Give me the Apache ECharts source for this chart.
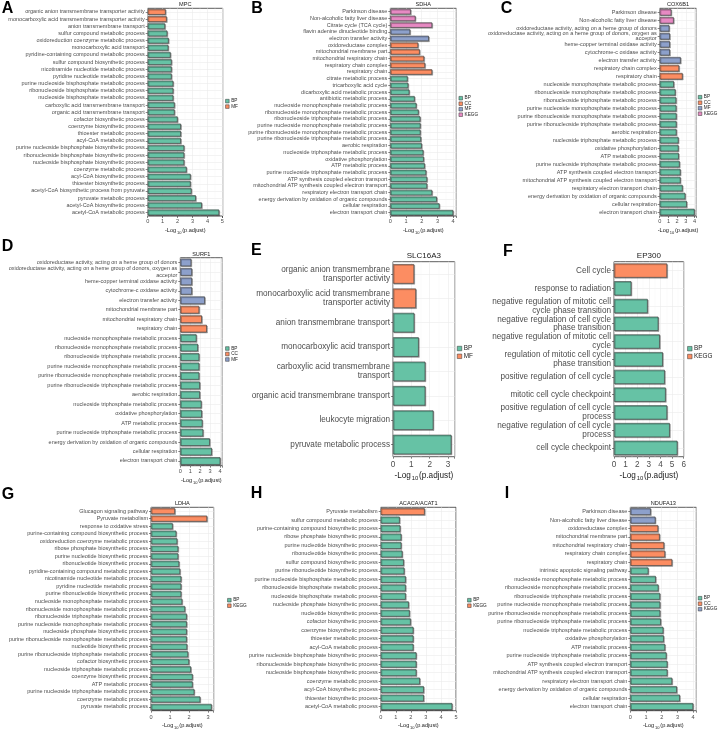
<!DOCTYPE html>
<html>
<head>
<meta charset="utf-8">
<script src="https://cdn.jsdelivr.net/npm/echarts@6/dist/echarts.min.js"></script>
<style>
html,body{margin:0;padding:0;background:#fff;}
#chart{width:719px;height:731px;}
</style>
</head>
<body>
<div id="chart"></div>
<script>
// ---------- DATA ----------
// Panel A – MPC
const termsA = ['organic anion transmembrane transporter activity','monocarboxylic acid transmembrane transporter activity','anion transmembrane transport','sulfur compound metabolic process','oxidoreduction coenzyme metabolic process','monocarboxylic acid transport','pyridine-containing compound metabolic process','sulfur compound biosynthetic process','nicotinamide nucleotide metabolic process','pyridine nucleotide metabolic process','purine nucleoside bisphosphate metabolic process','ribonucleoside bisphosphate metabolic process','nucleoside bisphosphate metabolic process','carboxylic acid transmembrane transport','organic acid transmembrane transport','cofactor biosynthetic process','coenzyme biosynthetic process','thioester metabolic process','acyl-CoA metabolic process','purine nucleoside bisphosphate biosynthetic process','ribonucleoside bisphosphate biosynthetic process','nucleoside bisphosphate biosynthetic process','coenzyme metabolic process','acyl-CoA biosynthetic process','thioester biosynthetic process','acetyl-CoA biosynthetic process from pyruvate','pyruvate metabolic process','acetyl-CoA biosynthetic process','acetyl-CoA metabolic process'];
const valuesA = [1.2,1.27,1.16,1.31,1.4,1.38,1.53,1.6,1.6,1.6,1.71,1.71,1.71,1.8,1.8,2.0,2.22,2.22,2.22,2.44,2.44,2.44,2.6,2.87,2.87,2.93,3.22,3.62,4.78];
const groupsA = ['MF','MF','BP','BP','BP','BP','BP','BP','BP','BP','BP','BP','BP','BP','BP','BP','BP','BP','BP','BP','BP','BP','BP','BP','BP','BP','BP','BP','BP'];
const legendA = ['BP','MF'];

// Panel B – SDHA
const termsB = ['Parkinson disease','Non-alcoholic fatty liver disease','Citrate cycle (TCA cycle)','flavin adenine dinucleotide binding','electron transfer activity','oxidoreductase complex','mitochondrial membrane part','mitochondrial respiratory chain','respiratory chain complex','respiratory chain','citrate metabolic process','tricarboxylic acid cycle','dicarboxylic acid metabolic process','antibiotic metabolic process','nucleoside monophosphate metabolic process','ribonucleoside monophosphate metabolic process','ribonucleoside triphosphate metabolic process','purine nucleoside monophosphate metabolic process','purine ribonucleoside monophosphate metabolic process','purine ribonucleoside triphosphate metabolic process','aerobic respiration','nucleoside triphosphate metabolic process','oxidative phosphorylation','ATP metabolic process','purine nucleoside triphosphate metabolic process','ATP synthesis coupled electron transport','mitochondrial ATP synthesis coupled electron transport','respiratory electron transport chain','energy derivation by oxidation of organic compounds','cellular respiration','electron transport chain'];
const valuesB = [1.3,1.6,2.66,1.26,2.45,1.77,1.87,2.15,2.21,2.66,1.1,1.14,1.21,1.55,1.66,1.8,1.91,1.92,1.92,1.95,2.0,2.1,2.13,2.19,2.28,2.34,2.34,2.66,2.96,3.13,4.0];
const groupsB = ['KEGG','KEGG','KEGG','MF','MF','CC','CC','CC','CC','CC','BP','BP','BP','BP','BP','BP','BP','BP','BP','BP','BP','BP','BP','BP','BP','BP','BP','BP','BP','BP','BP'];
const legendB = ['BP','CC','MF','KEGG'];

// Panel C – COX6B1
const termsC = ['Parkinson disease','Non-alcoholic fatty liver disease','oxidoreductase activity, acting on a heme group of donors','oxidoreductase activity, acting on a heme group of donors, oxygen as\nacceptor','heme-copper terminal oxidase activity','cytochrome-c oxidase activity','electron transfer activity','respiratory chain complex','respiratory chain','nucleoside monophosphate metabolic process','ribonucleoside monophosphate metabolic process','ribonucleoside triphosphate metabolic process','purine nucleoside monophosphate metabolic process','purine ribonucleoside monophosphate metabolic process','purine ribonucleoside triphosphate metabolic process','aerobic respiration','nucleoside triphosphate metabolic process','oxidative phosphorylation','ATP metabolic process','purine nucleoside triphosphate metabolic process','ATP synthesis coupled electron transport','mitochondrial ATP synthesis coupled electron transport','respiratory electron transport chain','energy derivation by oxidation of organic compounds','cellular respiration','electron transport chain'];
const valuesC = [1.33,1.6,1.1,1.16,1.16,1.16,2.4,2.22,2.62,1.62,1.8,1.88,1.9,1.92,1.92,1.92,2.15,2.15,2.18,2.28,2.38,2.38,2.62,2.93,3.1,3.99];
const groupsC = ['KEGG','KEGG','MF','MF','MF','MF','MF','CC','CC','BP','BP','BP','BP','BP','BP','BP','BP','BP','BP','BP','BP','BP','BP','BP','BP','BP'];
const legendC = ['BP','CC','MF','KEGG'];

// Panel D – SURF1
const termsD = ['oxidoreductase activity, acting on a heme group of donors','oxidoreductase activity, acting on a heme group of donors, oxygen as\nacceptor','heme-copper terminal oxidase activity','cytochrome-c oxidase activity','electron transfer activity','mitochondrial membrane part','mitochondrial respiratory chain','respiratory chain','nucleoside monophosphate metabolic process','ribonucleoside monophosphate metabolic process','ribonucleoside triphosphate metabolic process','purine nucleoside monophosphate metabolic process','purine ribonucleoside monophosphate metabolic process','purine ribonucleoside triphosphate metabolic process','aerobic respiration','nucleoside triphosphate metabolic process','oxidative phosphorylation','ATP metabolic process','purine nucleoside triphosphate metabolic process','energy derivation by oxidation of organic compounds','cellular respiration','electron transport chain'];
const valuesD = [1.1,1.17,1.17,1.17,2.47,1.9,2.17,2.67,1.63,1.77,1.9,1.9,1.9,1.97,1.97,2.13,2.17,2.23,2.3,2.97,3.17,4.03];
const groupsD = ['MF','MF','MF','MF','MF','CC','CC','CC','BP','BP','BP','BP','BP','BP','BP','BP','BP','BP','BP','BP','BP','BP'];
const legendD = ['BP','CC','MF'];

// Panel E – SLC16A3
const termsE = ['organic anion transmembrane\ntransporter activity','monocarboxylic acid transmembrane\ntransporter activity','anion transmembrane transport','monocarboxylic acid transport','carboxylic acid transmembrane\ntransport','organic acid transmembrane transport','leukocyte migration','pyruvate metabolic process'];
const valuesE = [1.15,1.25,1.16,1.4,1.76,1.76,2.2,3.18];
const groupsE = ['MF','MF','BP','BP','BP','BP','BP','BP'];
const legendE = ['BP','MF'];

// Panel F – EP300
const termsF = ['Cell cycle','response to radiation','negative regulation of mitotic cell\ncycle phase transition','negative regulation of cell cycle\nphase transition','negative regulation of mitotic cell\ncycle','regulation of mitotic cell cycle\nphase transition','positive regulation of cell cycle','mitotic cell cycle checkpoint','positive regulation of cell cycle\nprocess','negative regulation of cell cycle\nprocess','cell cycle checkpoint'];
const valuesF = [4.57,1.49,2.9,3.82,3.94,4.2,4.37,4.45,4.57,4.8,5.46];
const groupsF = ['KEGG','BP','BP','BP','BP','BP','BP','BP','BP','BP','BP'];
const legendF = ['BP','KEGG'];

// Panel G – LDHA
const termsG = ['Glucagon signaling pathway','Pyruvate metabolism','response to oxidative stress','purine-containing compound biosynthetic process','oxidoreduction coenzyme metabolic process','ribose phosphate biosynthetic process','purine nucleotide biosynthetic process','ribonucleotide biosynthetic process','pyridine-containing compound metabolic process','nicotinamide nucleotide metabolic process','pyridine nucleotide metabolic process','purine ribonucleotide biosynthetic process','nucleoside monophosphate metabolic process','ribonucleoside monophosphate metabolic process','ribonucleoside triphosphate metabolic process','purine nucleoside monophosphate metabolic process','nucleoside phosphate biosynthetic process','purine ribonucleoside monophosphate metabolic process','nucleotide biosynthetic process','purine ribonucleoside triphosphate metabolic process','cofactor biosynthetic process','nucleoside triphosphate metabolic process','coenzyme biosynthetic process','ATP metabolic process','purine nucleoside triphosphate metabolic process','coenzyme metabolic process','pyruvate metabolic process'];
const valuesG = [1.26,2.95,1.14,1.33,1.38,1.43,1.43,1.48,1.53,1.59,1.59,1.59,1.64,1.79,1.88,1.88,1.88,1.88,1.9,1.95,2.0,2.1,2.19,2.19,2.28,2.59,3.19];
const groupsG = ['KEGG','KEGG','BP','BP','BP','BP','BP','BP','BP','BP','BP','BP','BP','BP','BP','BP','BP','BP','BP','BP','BP','BP','BP','BP','BP','BP','BP'];
const legendG = ['BP','KEGG'];

// Panel H – ACACA/ACAT1
const termsH = ['Pyruvate metabolism','sulfur compound metabolic process','purine-containing compound biosynthetic process','ribose phosphate biosynthetic process','purine nucleotide biosynthetic process','ribonucleotide biosynthetic process','sulfur compound biosynthetic process','purine ribonucleotide biosynthetic process','purine nucleoside bisphosphate metabolic process','ribonucleoside bisphosphate metabolic process','nucleoside bisphosphate metabolic process','nucleoside phosphate biosynthetic process','nucleotide biosynthetic process','cofactor biosynthetic process','coenzyme biosynthetic process','thioester metabolic process','acyl-CoA metabolic process','purine nucleoside bisphosphate biosynthetic process','ribonucleoside bisphosphate biosynthetic process','nucleoside bisphosphate biosynthetic process','coenzyme metabolic process','acyl-CoA biosynthetic process','thioester biosynthetic process','acetyl-CoA metabolic process'];
const valuesH = [2.92,1.26,1.3,1.37,1.37,1.44,1.53,1.57,1.66,1.66,1.66,1.86,1.92,1.99,2.17,2.17,2.17,2.37,2.37,2.37,2.6,2.86,2.86,4.75];
const groupsH = ['KEGG','BP','BP','BP','BP','BP','BP','BP','BP','BP','BP','BP','BP','BP','BP','BP','BP','BP','BP','BP','BP','BP','BP','BP'];
const legendH = ['BP','KEGG'];

// Panel I – NDUFA13
const termsI = ['Parkinson disease','Non-alcoholic fatty liver disease','oxidoreductase complex','mitochondrial membrane part','mitochondrial respiratory chain','respiratory chain complex','respiratory chain','intrinsic apoptotic signaling pathway','nucleoside monophosphate metabolic process','ribonucleoside monophosphate metabolic process','ribonucleoside triphosphate metabolic process','purine nucleoside monophosphate metabolic process','purine ribonucleoside monophosphate metabolic process','purine ribonucleoside triphosphate metabolic process','nucleoside triphosphate metabolic process','oxidative phosphorylation','ATP metabolic process','purine nucleoside triphosphate metabolic process','ATP synthesis coupled electron transport','mitochondrial ATP synthesis coupled electron transport','respiratory electron transport chain','energy derivation by oxidation of organic compounds','cellular respiration','electron transport chain'];
const valuesI = [1.3,1.6,1.77,1.87,2.15,2.21,2.66,1.15,1.62,1.79,1.89,1.9,1.9,1.94,2.1,2.13,2.21,2.3,2.36,2.36,2.66,2.96,3.15,4.0];
const groupsI = ['KEGG','KEGG','CC','CC','CC','CC','CC','BP','BP','BP','BP','BP','BP','BP','BP','BP','BP','BP','BP','BP','BP','BP','BP','BP'];
const legendI = ['BP','CC','KEGG'];

const panelLetters = ['A','B','C','D','E','F','G','H','I'];
const geneTitles = ['MPC','SDHA','COX6B1','SURF1','SLC16A3','EP300','LDHA','ACACA/ACAT1','NDUFA13'];
const axisTitle = '-Log{s|10}(p.adjust)';

// ---------- LAYOUT ----------
const SET2 = ['#66C2A5','#FC8D62','#8DA0CB','#E78AC3'];
const FONT = '"Liberation Sans", Arial, sans-serif';
const small = {fs:5.5, lh:5.2, xfs:5.6, tfs:5.6, nfs:5.6, lg:{size:3.6, gap:0.5, fs:4.7}};
const big = {fs:8.2, lh:8.8, xfs:8.2, tfs:8.0, nfs:8.2, lg:{size:4.5, gap:1.8, fs:6.4}};
const layout = [
 {terms:termsA, values:valuesA, groups:groupsA, legend:legendA, g:{left:147.7, top:8.3, width:75, height:207.7}, xMax:5.02, st:small, xm:2.5, ng:10, ty:4, leg:[225.3,98.6], letter:[1.7,9]},
 {terms:termsB, values:valuesB, groups:groupsB, legend:legendB, g:{left:390.3, top:8.3, width:66, height:207.7}, xMax:4.2, st:small, xm:2.3, ng:10, ty:4.7, leg:[458.7,95.7], letter:[251.3,9]},
 {terms:termsC, values:valuesC, groups:groupsC, legend:legendC, g:{left:659.7, top:8.3, width:36.6, height:207.7}, xMax:4.19, st:Object.assign({}, small, {lh:5.0}), xm:2.3, ng:10, ty:4.7, leg:[698,94.7], letter:[500.7,9]},
 {terms:termsD, values:valuesD, groups:groupsD, legend:legendD, g:{left:180.3, top:257.7, width:42, height:208}, xMax:4.23, st:Object.assign({}, small, {lh:6.3}), xm:2.5, ng:10.5, ty:254, leg:[225.3,346], letter:[1.7,247]},
 {terms:termsE, values:valuesE, groups:groupsE, legend:legendE, g:{left:393, top:261.7, width:61.7, height:195}, xMax:3.36, st:big, xm:4.0, ng:13.5, ty:255.7, leg:[457,345.5], letter:[251,251]},
 {terms:termsF, values:valuesF, groups:groupsF, legend:legendF, g:{left:614, top:261.7, width:69.7, height:195}, xMax:6, st:big, xm:4.0, ng:13.5, ty:255.7, leg:[687.3,345.7], letter:[503,251.7]},
 {terms:termsG, values:valuesG, groups:groupsG, legend:legendG, g:{left:151, top:507.3, width:62.7, height:207}, xMax:3.3, st:small, xm:3.8, ng:9.7, ty:503.7, leg:[227.3,597.7], letter:[1.7,495]},
 {terms:termsH, values:valuesH, groups:groupsH, legend:legendH, g:{left:380.7, top:507.3, width:75.3, height:207}, xMax:5.0, st:small, xm:3.8, ng:9.7, ty:503.3, leg:[467.3,597.7], letter:[250.7,493.5]},
 {terms:termsI, values:valuesI, groups:groupsI, legend:legendI, g:{left:630.3, top:507.3, width:66, height:207}, xMax:4.2, st:small, xm:3.8, ng:9.7, ty:503.3, leg:[698,595.7], letter:[504.7,493.5]}
];

const grids = [], xAxes = [], yAxes = [], series = [], legends = [], graphics = [];
layout.forEach((p, i) => {
  const st = p.st;
  grids.push({left:p.g.left, top:p.g.top, width:p.g.width, height:p.g.height, show:true,
    borderColor:'#333333', borderWidth:0.8, backgroundColor:'#ffffff', containLabel:false});
  xAxes.push({gridIndex:i, type:'value', min:0, max:p.xMax, interval:1,
    axisLine:{show:false},
    axisTick:{show:true, length:2, lineStyle:{color:'#333333', width:0.6}},
    axisLabel:{fontSize:st.xfs, color:'#4D4D4D', fontFamily:FONT, margin:p.xm,
      formatter: v => (Math.abs(v - Math.round(v)) < 1e-9 ? String(Math.round(v)) : '')},
    splitLine:{show:true, lineStyle:{color:'#EBEBEB', width:0.6}},
    minorTick:{show:false, splitNumber:2},
    minorSplitLine:{show:true, lineStyle:{color:'#F3F3F3', width:0.4}},
    name:axisTitle, nameLocation:'middle', nameGap:p.ng,
    nameTextStyle:{fontSize:st.nfs, color:'#1A1A1A', fontFamily:FONT, lineHeight:st.nfs+3,
      rich:{s:{fontSize:st.nfs*0.72, fontFamily:FONT, color:'#1A1A1A', verticalAlign:'bottom', lineHeight:st.nfs*0.72+1, padding:[0,0.8,0,0.8]}}}
  });
  yAxes.push({gridIndex:i, type:'category', data:p.terms, inverse:true,
    axisLine:{show:false},
    axisTick:{show:true, alignWithLabel:true, interval:0, length:2, lineStyle:{color:'#333333', width:0.6}},
    axisLabel:{interval:0, fontSize:st.fs, lineHeight:st.lh, color:'#4D4D4D', fontFamily:FONT, margin:3},
    splitLine:{show:true, alignWithLabel:true, interval:0, lineStyle:{color:'#EBEBEB', width:0.6}}
  });
  p.legend.forEach((grp, gi) => {
    series.push({type:'bar', name:grp, xAxisIndex:i, yAxisIndex:i,
      barWidth:'80%', barGap:'-100%', silent:true, z:3,
      itemStyle:{color:SET2[gi], borderColor:'#3A3A3A', borderWidth:0.6,
        shadowColor:'rgba(0,0,0,0.35)', shadowBlur:0, shadowOffsetX:0.9, shadowOffsetY:0.9},
      data:p.values.map((v, k) => (p.groups[k] === grp ? v : '-'))
    });
  });
  legends.push({orient:'vertical', left:p.leg[0], top:p.leg[1], padding:0,
    itemWidth:st.lg.size, itemHeight:st.lg.size, itemGap:st.lg.gap, selectedMode:false,
    icon:'rect',
    textStyle:{fontSize:st.lg.fs, color:'#1A1A1A', fontFamily:FONT, padding:[0,0,0,-3]},
    data:p.legend.map((grp, gi) => ({name:grp, itemStyle:{color:SET2[gi], borderColor:'#333333', borderWidth:0.5,
      shadowBlur:0, shadowOffsetX:0, shadowOffsetY:0, shadowColor:'rgba(0,0,0,0)'}}))
  });
  graphics.push({type:'text', x:p.g.left + p.g.width/2, y:p.ty, silent:true,
    style:{text:geneTitles[i], fontSize:st.tfs, fontFamily:FONT, fill:'#1A1A1A', align:'center', verticalAlign:'middle'}});
  graphics.push({type:'text', x:p.letter[0], y:p.letter[1], silent:true,
    style:{text:panelLetters[i], fontSize:16, fontWeight:'bold', fontFamily:FONT, fill:'#000000', align:'left', verticalAlign:'middle'}});
});

const chart = echarts.init(document.getElementById('chart'), null, {renderer:'canvas', width:719, height:731});
chart.setOption({
  animation:false,
  backgroundColor:'#ffffff',
  grid:grids, xAxis:xAxes, yAxis:yAxes, series:series, legend:legends, graphic:graphics,
  tooltip:{show:false}
});
</script>
</body>
</html>
